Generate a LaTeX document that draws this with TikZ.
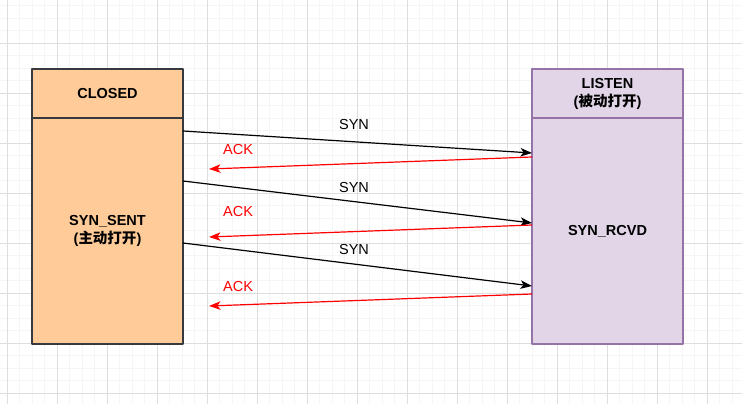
\documentclass[tikz,border=0pt]{standalone}
\usepackage{fontspec}
\setmainfont{Liberation Sans}
\newfontfamily\cjk{Noto Sans CJK SC}
\usetikzlibrary{arrows.meta}
\usetikzlibrary{positioning}

\begin{document}
\begin{tikzpicture}
[x=1pt,y=-1pt,line join=round,
% Styles
minor grid/.style={draw=black!4,line width=0.9pt},
major grid/.style={draw=black!13,line width=0.9pt},
state head/.style={draw,line width=1.25pt,outer sep=0pt,inner sep=0pt,
  minimum width=151pt,minimum height=49pt,align=center,
  font=\fontsize{14.5}{18}\selectfont\bfseries},
state body/.style={state head,minimum height=226pt},
syn/.style={line width=1.2pt,-{Stealth[length=11.5pt,width=8.5pt,inset=3pt]}},
ack/.style={syn,red},
msg/.style={font=\fontsize{14.5}{17}\selectfont}]
% Colors
\definecolor{activefill}{HTML}{FFCC99}
\definecolor{activeline}{HTML}{36393D}
\definecolor{passivefill}{HTML}{E1D5E7}
\definecolor{passiveline}{HTML}{9673A6}
\useasboundingbox (0,0) rectangle (742,404);
% The grid
\foreach \k in {0,...,58}
\draw[minor grid] ({7+12.5*\k},0) -- ({7+12.5*\k},404);
\foreach \k in {0,...,31}
\draw[minor grid] (0,{5.5+12.5*\k}) -- (742,{5.5+12.5*\k});
\foreach \k in {0,...,14}
\draw[major grid] ({7+50*\k},0) -- ({7+50*\k},404);
\foreach \k in {0,...,7}
\draw[major grid] (0,{43+50*\k}) -- (742,{43+50*\k});
% The two ends
\node[state head,fill=activefill,draw=activeline,anchor=north west] (closed) at (32,69) {CLOSED};
\node[state body,fill=activefill,draw=activeline,below=0pt of closed] (sent) {SYN\_SENT\\({\cjk 主动打开})};
\node[state head,fill=passivefill,draw=passiveline,anchor=north west] (listen) at (532,69) {LISTEN\\({\cjk 被动打开})};
\node[state body,fill=passivefill,draw=passiveline,below=0pt of listen] (rcvd) {SYN\_RCVD};
% The messages
\coordinate (ack a) at (209,169);
\coordinate (ack b) at (209,237);
\coordinate (ack c) at (209,306);
\draw[syn] (sent.east |- 0,131) -- node[msg,pos=.49,above=8.5pt] {SYN} (rcvd.west |- 0,153);
\draw[ack] (rcvd.west |- 0,157) -- node[msg,pos=.91,above=9.5pt] {ACK} (ack a);
\draw[syn] (sent.east |- 0,181) -- node[msg,pos=.49,above=5pt] {SYN} (rcvd.west |- 0,223);
\draw[ack] (rcvd.west |- 0,225) -- node[msg,pos=.91,above=15.5pt] {ACK} (ack b);
\draw[syn] (sent.east |- 0,243) -- node[msg,pos=.49,above=5.5pt] {SYN} (rcvd.west |- 0,286);
\draw[ack] (rcvd.west |- 0,294) -- node[msg,pos=.91,above=9.5pt] {ACK} (ack c);
\end{tikzpicture}
\end{document}
